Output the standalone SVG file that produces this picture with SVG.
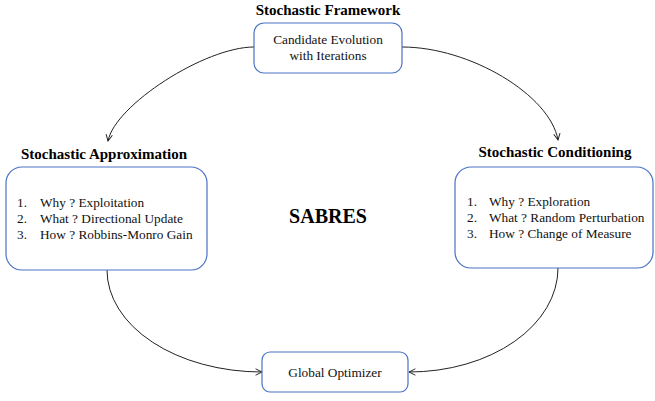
<svg xmlns="http://www.w3.org/2000/svg" width="655" height="401" viewBox="0 0 655 401">
<defs>
<style>
.box{fill:#fff;stroke:#4a72c4;stroke-width:1.2}
.c{fill:none;stroke:#222;stroke-width:1}
</style>
<marker id="arr" viewBox="0 0 10 10" refX="9" refY="5" markerWidth="8" markerHeight="8" markerUnits="userSpaceOnUse" orient="auto">
<path d="M1,1 L9,5 L1,9" fill="none" stroke="#222" stroke-width="1.2"/>
</marker>
</defs>
<rect width="655" height="401" fill="#fff"/>
<g id="connectors">
<path class="c" d="M254,47 C205,47 115,105 108,141" marker-end="url(#arr)"/>
<path class="c" d="M402,47 C470,47 550,95 558,140" marker-end="url(#arr)"/>
<path class="c" d="M107,270 A155,102 0 0 0 262,372" marker-end="url(#arr)"/>
<path class="c" d="M558,268 A149,104 0 0 1 409,372" marker-end="url(#arr)"/>
</g>
<g id="framework" font-family="Liberation Serif, serif" font-size="13.3" fill="#111">
<text x="328" y="15" text-anchor="middle" font-size="15" font-weight="bold" fill="#000">Stochastic Framework</text>
<rect class="box" x="254" y="23" width="148" height="50" rx="10"/>
<text x="328" y="44" text-anchor="middle">Candidate Evolution</text>
<text x="328" y="60" text-anchor="middle">with Iterations</text>
</g>
<g id="approximation" font-family="Liberation Serif, serif" font-size="13.3" fill="#111">
<text x="104" y="159" text-anchor="middle" font-size="15" font-weight="bold" fill="#000">Stochastic Approximation</text>
<rect class="box" x="6" y="167" width="201" height="103" rx="16"/>
<text x="17" y="207">1.</text>
<text x="40" y="207">Why ? Exploitation</text>
<text x="17" y="223">2.</text>
<text x="40" y="223">What ? Directional Update</text>
<text x="17" y="239">3.</text>
<text x="40" y="239">How ? Robbins-Monro Gain</text>
</g>
<g id="conditioning" font-family="Liberation Serif, serif" font-size="13.3" fill="#111">
<text x="555" y="157" text-anchor="middle" font-size="15" font-weight="bold" fill="#000">Stochastic Conditioning</text>
<rect class="box" x="455" y="167" width="198" height="101" rx="16"/>
<text x="467" y="206">1.</text>
<text x="489" y="206">Why ? Exploration</text>
<text x="467" y="222">2.</text>
<text x="489" y="222">What ? Random Perturbation</text>
<text x="467" y="238">3.</text>
<text x="489" y="238">How ? Change of Measure</text>
</g>
<g id="sabres">
<text x="328" y="223" text-anchor="middle" font-family="Liberation Serif, serif" font-size="20" font-weight="bold">SABRES</text>
</g>
<g id="optimizer" font-family="Liberation Serif, serif" font-size="13.3" fill="#111">
<rect class="box" x="262" y="352" width="146" height="40" rx="8"/>
<text x="335" y="377" text-anchor="middle">Global Optimizer</text>
</g>
</svg>
